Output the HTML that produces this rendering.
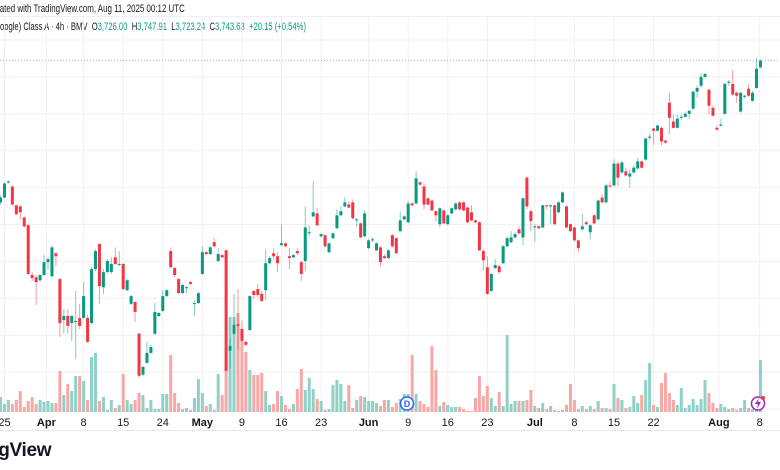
<!DOCTYPE html>
<html><head><meta charset="utf-8">
<style>
html,body{margin:0;padding:0;background:#fff;width:780px;height:470px;overflow:hidden;font-family:"Liberation Sans",sans-serif;}
#wrap{position:relative;width:780px;height:470px;overflow:hidden;}
.t1{position:absolute;left:-13px;top:3px;font-size:11px;color:#131722;white-space:nowrap;transform:scaleX(0.72);transform-origin:0 0;}
.t2{position:absolute;left:-6px;top:21px;font-size:11px;color:#131722;white-space:nowrap;transform:scaleX(0.695);transform-origin:0 0;}
.t2 b{font-weight:normal;color:#089981;}
.logo{position:absolute;left:-57px;top:440px;font-size:19px;font-weight:bold;color:#131722;white-space:nowrap;letter-spacing:-0.3px;}
svg{position:absolute;left:0;top:0;}
</style></head><body>
<div id="wrap">
<div class="t1">Created with TradingView.com, Aug 11, 2025 00:12 UTC</div>
<div class="t2">Google) Class A · 4h · BMV &nbsp;O<b>3,726.00</b> &nbsp;H<b>3,747.91</b> &nbsp;L<b>3,723.24</b> &nbsp;C<b>3,743.63</b> &nbsp;<b>+20.15 (+0.54%)</b></div>
<svg id="chart" width="780" height="470"></svg>
<div class="logo">TradingView</div>
</div>
<script>
const opens=[3360,3373,3414,3403,3352,3349,3319,3298,3163,3157,3149,3163,3198,3160,3222,3152,3041,3052,3033,3036,3047,3047,3047,3033,3179,3247,3130,3171,3171,3211,3190,3193,3122,3085,3090,3004,2893,2925,2952,3004,3052,3066,3106,3228,3182,3152,3114,3128,3144,3085,3087,3166,3225,3220,3252,3201,3217,3230,2958,3004,3030,3017,2982,3014,3120,3125,3112,3122,3195,3222,3214,3244,3249,3214,3211,3228,3198,3201,3276,3322,3330,3268,3271,3225,3263,3290,3325,3349,3354,3360,3311,3303,3268,3236,3257,3230,3238,3214,3209,3271,3263,3282,3314,3306,3357,3357,3414,3403,3371,3365,3336,3301,3338,3301,3330,3341,3360,3360,3346,3333,3311,3306,3228,3184,3120,3182,3187,3195,3241,3252,3265,3287,3265,3427,3336,3292,3295,3292,3352,3349,3352,3333,3360,3349,3301,3292,3257,3287,3306,3279,3325,3314,3373,3360,3406,3406,3465,3441,3444,3430,3441,3452,3471,3476,3535,3560,3554,3562,3527,3630,3579,3562,3589,3592,3600,3614,3660,3676,3700,3665,3616,3562,3568,3600,3684,3681,3657,3606,3646,3668,3635,3670,3726];
const highs=[3379,3414,3419,3406,3354,3352,3322,3300,3171,3163,3166,3217,3211,3244,3225,3155,3071,3071,3055,3120,3085,3144,3055,3184,3233,3249,3179,3206,3211,3238,3228,3195,3152,3109,3093,3006,2917,2982,2974,3087,3063,3122,3125,3238,3184,3155,3139,3133,3147,3093,3117,3241,3228,3241,3263,3236,3220,3233,2990,3112,3125,3039,2985,3109,3122,3139,3120,3233,3214,3236,3225,3301,3252,3236,3220,3236,3201,3349,3298,3417,3344,3276,3274,3252,3279,3341,3349,3373,3363,3368,3317,3306,3338,3260,3265,3252,3241,3220,3233,3274,3265,3336,3325,3363,3360,3444,3417,3411,3373,3368,3338,3346,3341,3328,3346,3360,3363,3363,3349,3352,3314,3309,3233,3214,3168,3206,3190,3244,3268,3282,3279,3295,3373,3430,3341,3301,3298,3354,3354,3354,3354,3363,3390,3352,3303,3295,3260,3328,3309,3301,3328,3368,3382,3409,3417,3476,3471,3473,3454,3449,3460,3481,3473,3535,3546,3562,3571,3565,3530,3657,3598,3598,3598,3606,3611,3662,3676,3711,3711,3668,3622,3568,3587,3684,3692,3719,3660,3660,3652,3681,3662,3751,3748];
const lows=[3354,3371,3411,3352,3325,3314,3292,3163,3147,3082,3144,3160,3179,3157,3187,2995,3004,3004,2985,2936,3017,3044,2979,3030,3174,3085,3112,3168,3166,3190,3187,3122,3120,3082,3036,2885,2890,2923,2950,3001,3049,3063,3103,3182,3157,3112,3112,3114,3136,3052,3085,3163,3217,3217,3238,3198,3209,2901,2909,3001,2963,2982,2971,3012,3098,3103,3090,3095,3193,3206,3171,3241,3238,3179,3209,3217,3147,3174,3268,3319,3295,3265,3238,3222,3260,3287,3322,3346,3344,3314,3292,3263,3265,3233,3252,3228,3187,3206,3206,3238,3220,3279,3311,3303,3349,3354,3406,3341,3352,3336,3309,3292,3301,3298,3328,3338,3338,3336,3303,3309,3303,3228,3176,3109,3117,3179,3166,3193,3238,3249,3263,3274,3244,3341,3282,3252,3287,3290,3341,3301,3298,3330,3357,3290,3279,3255,3225,3284,3298,3260,3301,3311,3357,3357,3400,3403,3403,3438,3430,3400,3438,3449,3452,3473,3530,3516,3552,3514,3519,3544,3560,3560,3584,3589,3587,3611,3643,3670,3697,3598,3592,3554,3565,3598,3676,3649,3630,3603,3641,3646,3633,3668,3723];
const closes=[3373,3411,3417,3354,3328,3333,3295,3166,3155,3144,3163,3198,3206,3238,3214,3033,3052,3025,3052,3039,3025,3106,2982,3179,3228,3133,3171,3201,3193,3193,3193,3125,3149,3106,3063,2890,2914,2952,2968,3063,3060,3106,3122,3184,3163,3114,3136,3130,3139,3087,3114,3225,3220,3238,3241,3220,3211,2904,2971,3028,3025,2985,2974,3106,3109,3109,3093,3195,3209,3214,3195,3249,3241,3209,3217,3222,3166,3292,3279,3333,3298,3274,3241,3249,3276,3325,3336,3360,3346,3317,3314,3265,3330,3257,3260,3249,3198,3209,3230,3241,3222,3311,3322,3357,3352,3425,3408,3354,3354,3338,3325,3344,3303,3325,3344,3357,3341,3338,3306,3311,3306,3230,3203,3112,3166,3190,3171,3241,3263,3265,3274,3276,3371,3349,3309,3295,3290,3352,3349,3352,3301,3360,3387,3292,3282,3257,3236,3295,3301,3298,3303,3365,3360,3406,3403,3465,3427,3468,3433,3438,3454,3471,3454,3533,3538,3554,3568,3525,3522,3589,3562,3587,3592,3600,3608,3660,3670,3700,3708,3622,3595,3557,3571,3681,3687,3652,3649,3657,3649,3649,3657,3722,3744];
const volumes=[15,8,12,8,12,21,5,11,15,8,12,10,11,9,9,41,17,28,21,36,36,31,12,55,59,11,15,2,12,4,7,38,12,8,12,19,17,4,12,3,3,18,18,57,19,9,3,4,2,14,33,19,6,8,2,38,17,53,95,95,99,80,60,42,37,37,39,21,7,8,21,16,7,3,8,23,43,22,34,23,13,11,2,3,27,32,28,11,27,4,12,16,15,11,11,9,6,12,12,5,9,13,18,18,57,18,11,8,5,66,42,6,10,7,5,5,5,3,1,1,14,36,16,26,14,6,20,6,77,8,11,11,11,12,22,6,4,9,3,6,2,1,2,7,28,12,3,6,3,6,3,11,4,4,3,28,14,12,4,5,16,9,17,32,49,7,5,29,39,19,12,7,24,4,7,13,7,13,32,19,9,4,8,5,3,4,2,4,12,4,3,3,52];
const priceTicks=[2800,2900,3000,3100,3200,3300,3400,3500,3600,3700,3800];
const dateLabels=["25","Apr","8","15","24","May","9","16","23","Jun","9","16","23","Jul","8","15","22","Aug","8"];
const dateIdx=[1,11.6,21,31,41,51,61,71,81,93,103,113,123,135,145,155,165,181.5,191.8];
const lastClose=3744;

const NS="http://www.w3.org/2000/svg";
const svg=document.getElementById('chart');
const xScale=i=>0.5+i*3.958;
const yScale=p=>409-(p-2800)*0.369;
const volBase=412, volScale=1;
const GREEN="#089981", RED="#f23645";
function mk(tag,attrs,parent){const e=document.createElementNS(NS,tag);for(const k in attrs)e.setAttribute(k,attrs[k]);(parent||svg).appendChild(e);return e;}

const sep=mk('line',{x1:0,x2:780,y1:16.5,y2:16.5,stroke:'#f0eef2'});



priceTicks.forEach(p=>{
  const g=mk('line',{x1:0,x2:780,y1:yScale(p),y2:yScale(p),stroke:'#f4eef1','stroke-width':1});
  
  
});
dateLabels.forEach((lab,k)=>{
  const x=xScale(dateIdx[k]);
  const g=mk('line',{x1:x,x2:x,y1:17,y2:412,stroke:'#f4eef1','stroke-width':1});
  
  
  const bold=/[A-Za-z]/.test(lab);
  const t=mk('text',{x:x,y:426,'text-anchor':'middle','font-size':'11','font-family':'Liberation Sans, sans-serif',fill:'#131722','font-weight':bold?'bold':'normal'});
  t.textContent=lab;
  
  
});
const ax=mk('line',{x1:0,x2:780,y1:430.5,y2:430.5,stroke:'#e8e6ea'});



volumes.forEach((v,i)=>{
  const up=closes[i]>=opens[i];
  const h=v*volScale;
  const r=mk('rect',{x:xScale(i)-1.5,y:volBase-h,width:3,height:h,fill:up?'#8fd1c6':'#f7a8a6'});
  
  
});

const lp=mk('line',{x1:0,x2:780,y1:yScale(lastClose),y2:yScale(lastClose),stroke:'#7fcbbd','stroke-width':1,'stroke-dasharray':'1,2'});



opens.forEach((o,i)=>{
  const c=closes[i], up=c>=o, col=up?GREEN:RED, x=xScale(i);
  const w=mk('line',{x1:x,x2:x,y1:yScale(highs[i]),y2:yScale(lows[i]),stroke:col,'stroke-width':1,'stroke-opacity':0.5});
  
  
  const top=yScale(Math.max(o,c)), bot=yScale(Math.min(o,c));
  const b=mk('rect',{x:x-1.5,y:top,width:3,height:Math.max(1,bot-top),fill:col});
  
  
});

const dg=mk('g',{});


mk('circle',{cx:407,cy:403.5,r:6.5,fill:'#fff',stroke:'#2962ff','stroke-width':1.5},dg);
const dt=mk('text',{x:407,y:407,'text-anchor':'middle','font-size':'9','font-weight':'bold','font-family':'Liberation Sans, sans-serif',fill:'#2962ff'},dg);
dt.textContent='D';
const eg=mk('g',{});


mk('circle',{cx:758,cy:403.5,r:6.5,fill:'#fff',stroke:'#9c27b0','stroke-width':1.5},eg);
mk('path',{d:'M759 398 L755 404 L758 404 L757 409 L761 402 L758 402 Z',fill:'#9c27b0'},eg);
mk('circle',{cx:763,cy:398,r:2,fill:'#f23645'},eg);
</script>
</body></html>
